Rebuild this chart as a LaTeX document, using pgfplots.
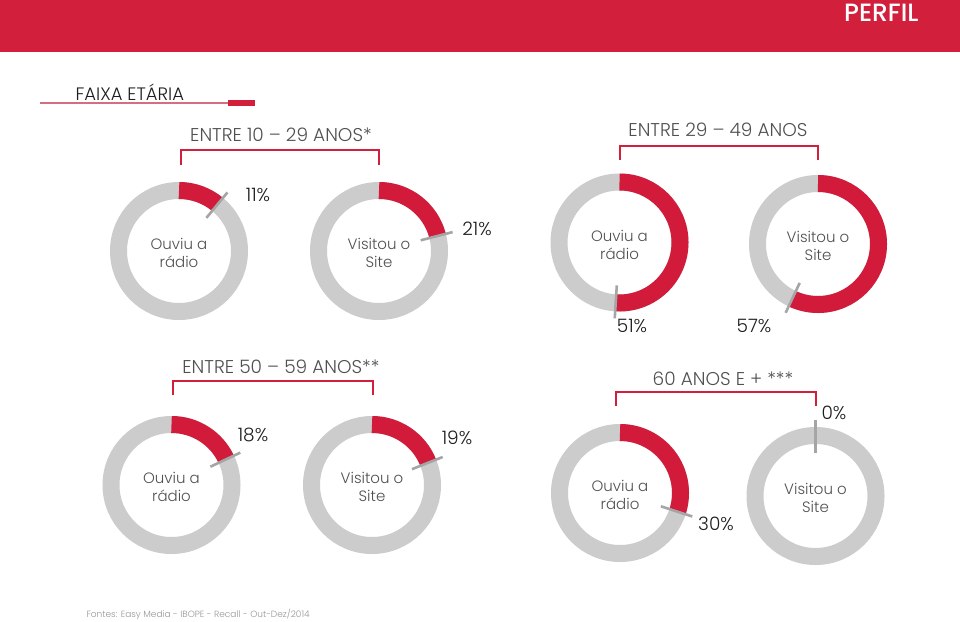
\documentclass[border=0pt]{standalone}
\usepackage{pgfplots}
\pgfplotsset{compat=1.18}
\usepackage{fontspec}
\setmainfont{Poppins Light}[BoldFont={Poppins Medium}]
\definecolor{hdr}{RGB}{210,31,60}
\definecolor{dred}{RGB}{210,27,58}
\definecolor{ring}{RGB}{204,204,204}
\definecolor{tickc}{RGB}{165,165,165}
\definecolor{txt}{RGB}{80,80,80}
\definecolor{pct}{RGB}{30,30,30}
\definecolor{foot}{RGB}{150,150,150}
\definecolor{pinkline}{RGB}{214,110,130}
% #1 cx, #2 cy, #3 percentage, #4 line1, #5 line2, #6 label x, #7 label y
\newcommand{\donut}[7]{%
  \draw[ring, line width=17pt] (axis cs:#1,#2) circle[radius=60.5pt];
  \draw[dred, line width=17pt] (axis cs:#1,#2) ++(90:60.5pt) arc[start angle=90, end angle={90-3.6*#3}, radius=60.5pt];
  \draw[tickc, line width=2.6pt] (axis cs:#1,#2) ++({90-3.6*#3}:43pt) -- ++({90-3.6*#3}:33pt);
  \node[align=center, text=txt, font=\fontsize{15}{18}\selectfont] at (axis cs:#1,#2+2) {#4\\#5};
  \node[text=pct, font=\fontsize{18.5}{20}\selectfont] at (axis cs:#6,#7) {#3\%};
}
\newcommand{\bracket}[4]{%
  \draw[hdr, line width=1.6pt] (axis cs:#1,#4) -- (axis cs:#1,#3) -- (axis cs:#2,#3) -- (axis cs:#2,#4);
}
\begin{document}
\begin{tikzpicture}
\begin{axis}[width=960pt, height=621pt, scale only axis,
  xmin=0, xmax=960, ymin=0, ymax=621, y dir=reverse, hide axis]
  \fill[white] (axis cs:0,0) rectangle (axis cs:960,621);
  \fill[hdr] (axis cs:0,0) rectangle (axis cs:960,52);
  \node[anchor=east, text=white, font=\fontsize{25}{28}\selectfont\bfseries] at (axis cs:922,13) {PERFIL};
  % section title
  \node[anchor=west, text=pct, font=\fontsize{18}{20}\selectfont] at (axis cs:72,92) {FAIXA ETÁRIA};
  \draw[pinkline, line width=1.5pt] (axis cs:40,103) -- (axis cs:228,103);
  \fill[hdr] (axis cs:228,100) rectangle (axis cs:255,105.5);
  % group titles
  \node[text=txt, font=\fontsize{18.5}{20}\selectfont] at (axis cs:281,135) {ENTRE 10 – 29 ANOS*};
  \node[text=txt, font=\fontsize{18.5}{20}\selectfont] at (axis cs:718,130) {ENTRE 29 – 49 ANOS};
  \node[text=txt, font=\fontsize{18.5}{20}\selectfont] at (axis cs:281,367) {ENTRE 50 – 59 ANOS**};
  \node[text=txt, font=\fontsize{18.5}{20}\selectfont] at (axis cs:723,379) {60 ANOS E + ***};
  \bracket{181}{379}{150}{165}
  \bracket{620}{818}{146}{160}
  \bracket{173}{373}{381}{395}
  \bracket{616}{816}{392}{406}
  % donuts: centre x, centre y, percentage, label lines, percentage label position
  \donut{179}{251}{11}{Ouviu a}{rádio}{258}{195}
  \donut{379}{251}{21}{Visitou o}{Site}{477}{229}
  \donut{619.5}{242.5}{51}{Ouviu a}{rádio}{632}{326}
  \donut{818}{244}{57}{Visitou o}{Site}{754}{326}
  \donut{171.5}{485}{18}{Ouviu a}{rádio}{253}{435}
  \donut{372}{485}{19}{Visitou o}{Site}{457}{438}
  \donut{620}{493}{30}{Ouviu a}{rádio}{716}{524}
  \donut{815.5}{496}{0}{Visitou o}{Site}{834}{413}
  \node[anchor=west, text=foot, font=\fontsize{9}{10}\selectfont] at (axis cs:83,614) {Fontes: Easy Media - IBOPE - Recall - Out-Dez/2014};
\end{axis}
\end{tikzpicture}
\end{document}
